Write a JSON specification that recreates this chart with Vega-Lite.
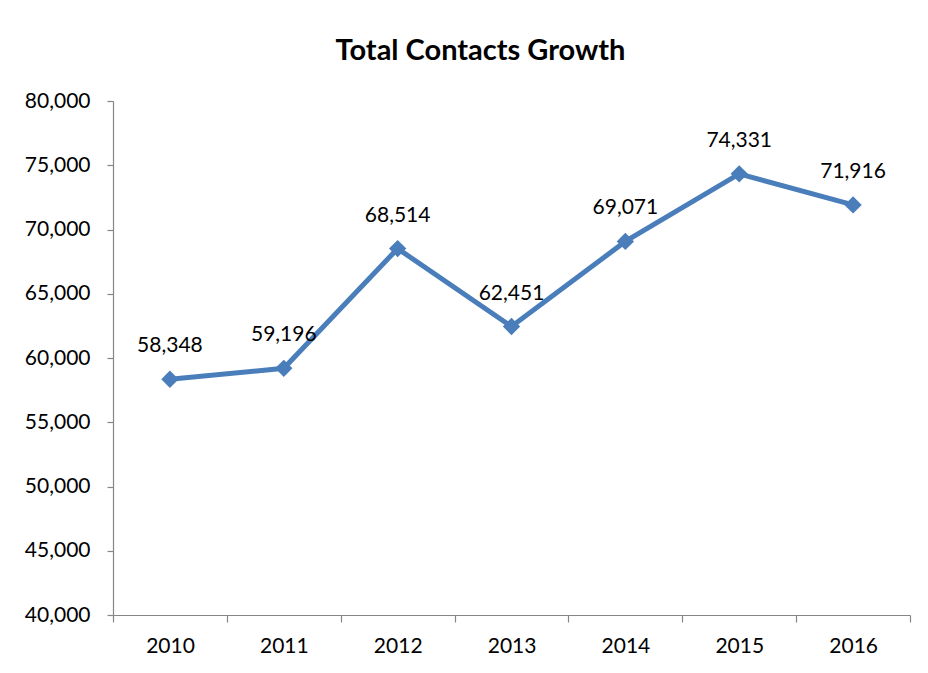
{
  "$schema": "https://vega.github.io/schema/vega-lite/v6.json",
  "autosize": {"type": "none"},
  "width": 797,
  "height": 514,
  "padding": {"left": 113, "top": 101, "right": 18, "bottom": 58},
  "background": "#ffffff",
  "config": {
    "view": {"stroke": null},
    "font": "Lato",
    "axis": {
      "domainColor": "#868686",
      "tickColor": "#868686",
      "domainWidth": 1.2,
      "tickWidth": 1.2,
      "labelFont": "Lato",
      "labelFontSize": 21,
      "labelColor": "#000000",
      "grid": false,
      "title": null
    }
  },
  "title": {
    "text": "Total Contacts Growth",
    "font": "Lato",
    "fontSize": 29,
    "fontWeight": "bold",
    "color": "#000000",
    "anchor": "middle",
    "frame": "group",
    "baseline": "alphabetic",
    "offset": 32,
    "dx": -31,
    "dy": 31
  },
  "data": {
    "values": [
      {"year": 2010, "contacts": 58348},
      {"year": 2011, "contacts": 59196},
      {"year": 2012, "contacts": 68514},
      {"year": 2013, "contacts": 62451},
      {"year": 2014, "contacts": 69071},
      {"year": 2015, "contacts": 74331},
      {"year": 2016, "contacts": 71916}
    ]
  },
  "encoding": {
    "x": {
      "field": "year",
      "type": "quantitative",
      "scale": {"domain": [2009.5, 2016.5], "nice": false, "zero": false},
      "axis": {
        "values": [2009.5, 2010.5, 2011.5, 2012.5, 2013.5, 2014.5, 2015.5, 2016.5],
        "labelExpr": "datum.value < 2016 ? format(datum.value + 0.5, 'd') : ''",
        "labelOffset": 57,
        "labelOverlap": false,
        "labelFlush": false,
        "tickSize": 7,
        "labelPadding": 13
      }
    },
    "y": {
      "field": "contacts",
      "type": "quantitative",
      "scale": {"domain": [40000, 80000], "nice": false, "zero": false},
      "axis": {
        "values": [40000, 45000, 50000, 55000, 60000, 65000, 70000, 75000, 80000],
        "format": ",d",
        "tickSize": 6,
        "labelPadding": 17
      }
    }
  },
  "layer": [
    {
      "mark": {"type": "line", "color": "#4A7EBB", "strokeWidth": 5}
    },
    {
      "mark": {"type": "point", "shape": "diamond", "filled": true, "size": 300, "color": "#4A7EBB", "opacity": 1}
    },
    {
      "mark": {"type": "text", "fontSize": 21, "font": "Lato", "color": "#000000", "baseline": "alphabetic", "dy": -27},
      "encoding": {"text": {"field": "contacts", "type": "quantitative", "format": ",d"}}
    }
  ]
}
